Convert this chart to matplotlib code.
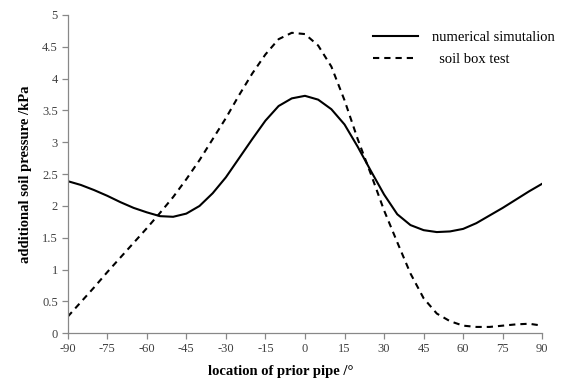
import numpy as np
import matplotlib
matplotlib.use("Agg")
import matplotlib.pyplot as plt

# location of prior pipe (degrees)
angle = list(range(-90, 95, 5))

# additional soil pressure (kPa)
numerical = [2.39, 2.33, 2.25, 2.16, 2.06, 1.97, 1.90, 1.84, 1.83, 1.88,
             2.00, 2.20, 2.45, 2.75, 3.05, 3.34, 3.57, 3.69, 3.73, 3.67,
             3.52, 3.28, 2.93, 2.55, 2.18, 1.87, 1.70, 1.62, 1.59, 1.60,
             1.64, 1.73, 1.85, 1.97, 2.10, 2.23, 2.35]
soil_box = [0.26, 0.49, 0.72, 0.96, 1.19, 1.42, 1.65, 1.89, 2.14, 2.42,
            2.72, 3.05, 3.38, 3.74, 4.08, 4.38, 4.62, 4.72, 4.70, 4.52,
            4.19, 3.66, 3.05, 2.50, 1.93, 1.43, 0.94, 0.55, 0.31, 0.19,
            0.12, 0.10, 0.10, 0.12, 0.14, 0.15, 0.12]

x_ticks = list(range(-90, 91, 15))
y_ticks = [0, 0.5, 1, 1.5, 2, 2.5, 3, 3.5, 4, 4.5, 5]
y_labels = ["0", "0.5", "1", "1.5", "2", "2.5", "3", "3.5", "4", "4.5", "5"]

plt.rcParams['font.family'] = ['Liberation Serif', 'DejaVu Serif']

fig = plt.figure(figsize=(5.63, 3.82), dpi=100)
ax = fig.add_axes([0.1202, 0.1275, 0.8430, 0.8333])

ax.plot(angle, numerical, color='black', lw=1.5, label='numerical simutalion')
ax.plot(angle, soil_box, color='black', lw=1.5, linestyle=(0, (3, 2.4)),
        label='  soil box test')

ax.set_xlim(-90, 90)
ax.set_ylim(0, 5)
ax.set_xticks(x_ticks)
ax.set_xticklabels([str(t) for t in x_ticks])
ax.set_yticks(y_ticks)
ax.set_yticklabels(y_labels)

for side in ['top', 'right']:
    ax.spines[side].set_visible(False)
for side in ['left', 'bottom']:
    ax.spines[side].set_color('#888888')
    ax.spines[side].set_linewidth(0.9)

ax.tick_params(axis='both', direction='out', length=4, width=0.9,
               color='#888888', labelsize=9, labelcolor='#404040', pad=3)

ax.set_xlabel('location of prior pipe /°', fontsize=10.5, fontweight='bold')
ax.xaxis.set_label_coords(0.449, -0.10)
ax.set_ylabel('additional soil pressure /kPa', fontsize=10.5, fontweight='bold')
ax.yaxis.set_label_coords(-0.076, 0.5)

ax.legend(loc='upper left', bbox_to_anchor=(0.643, 0.95), frameon=False,
          fontsize=10.5, handlelength=3.1, labelspacing=0.6,
          handletextpad=0.95, borderpad=0, borderaxespad=0)

fig.savefig('out.png', dpi=100)
